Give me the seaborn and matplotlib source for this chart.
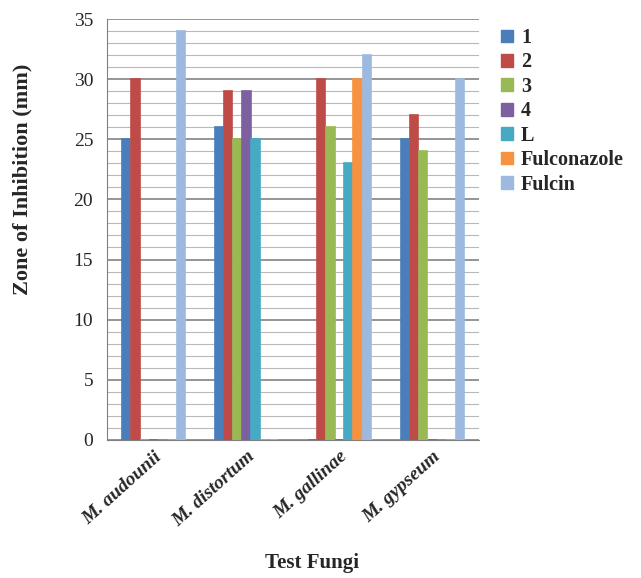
import matplotlib
matplotlib.use("Agg")
import matplotlib.pyplot as plt
import seaborn as sns
import pandas as pd
from matplotlib.patches import Patch
from matplotlib.ticker import MultipleLocator

categories = ["M. audounii", "M. distortum", "M. gallinae", "M. gypseum"]
series = ["1", "2", "3", "4", "L", "Fulconazole", "Fulcin"]
s1 = [25, 26, 0, 25]
s2 = [30, 29, 30, 27]
s3 = [0, 25, 26, 24]
s4 = [0, 29, 0, 0]
sL = [0, 25, 23, 0]
sFulconazole = [0, 0, 30, 0]
sFulcin = [34, 0, 32, 30]
colors = ["#4A7EBB", "#BE4B48", "#98B954", "#7D60A0", "#46AAC5", "#F69240", "#9DB9E0"]

vals = [s1, s2, s3, s4, sL, sFulconazole, sFulcin]
rows = []
for s, v in zip(series, vals):
    for c, y in zip(categories, v):
        rows.append({"Fungi": c, "Compound": s, "Zone": y})
df = pd.DataFrame(rows)

sns.set_style("white")
plt.rcParams["font.family"] = ["Liberation Serif", "DejaVu Serif"]

fig = plt.figure(figsize=(6.41, 5.78), dpi=100)
ax = fig.add_axes([0.167, 0.239, 0.580, 0.728])

sns.barplot(data=df, x="Fungi", y="Zone", hue="Compound", order=categories,
            hue_order=series, palette=colors, width=0.69, gap=0.06,
            legend=False, ax=ax, saturation=1)
for p in ax.patches:
    p.set_edgecolor(p.get_facecolor())
    p.set_linewidth(1.2)
    p.set_zorder(3)

ax.set_ylim(0, 35)
ax.set_xlim(-0.5, 3.5)
ax.yaxis.set_major_locator(MultipleLocator(5))
ax.yaxis.set_minor_locator(MultipleLocator(1))
ax.grid(which="major", axis="y", color="#8c8c8c", lw=1.3, zorder=0)
ax.grid(which="minor", axis="y", color="#b8b8b8", lw=0.8, zorder=0)
ax.set_axisbelow(True)
for side in ["top", "right"]:
    ax.spines[side].set_visible(False)
ax.spines["left"].set_color("#808080")
ax.spines["bottom"].set_color("#808080")
ax.tick_params(axis="y", which="major", direction="out", length=5, color="#808080",
               labelsize=14, pad=5)
ax.tick_params(axis="y", which="minor", length=0)
ax.tick_params(axis="x", length=0, pad=6)
ax.set_xticks(range(len(categories)))
ax.set_xticklabels(categories, rotation=42, ha="right", rotation_mode="anchor",
                   fontsize=14, fontweight="bold", fontstyle="italic")
ax.set_ylabel("Zone of Inhibition (mm)", fontsize=16, fontweight="bold")
ax.yaxis.set_label_coords(-0.20, 0.62)
ax.set_xlabel("Test Fungi", fontsize=15, fontweight="bold")
ax.xaxis.set_label_coords(0.55, -0.27)

handles = [Patch(facecolor=c, edgecolor=c) for c in colors]
fig.legend(handles, series, loc="upper left", bbox_to_anchor=(0.772, 0.962),
           frameon=False, handlelength=0.6, handleheight=0.6, handletextpad=0.4,
           labelspacing=0.22, borderaxespad=0, borderpad=0.3,
           prop={"weight": "bold", "size": 14.5})

fig.savefig("out.png", dpi=100)
